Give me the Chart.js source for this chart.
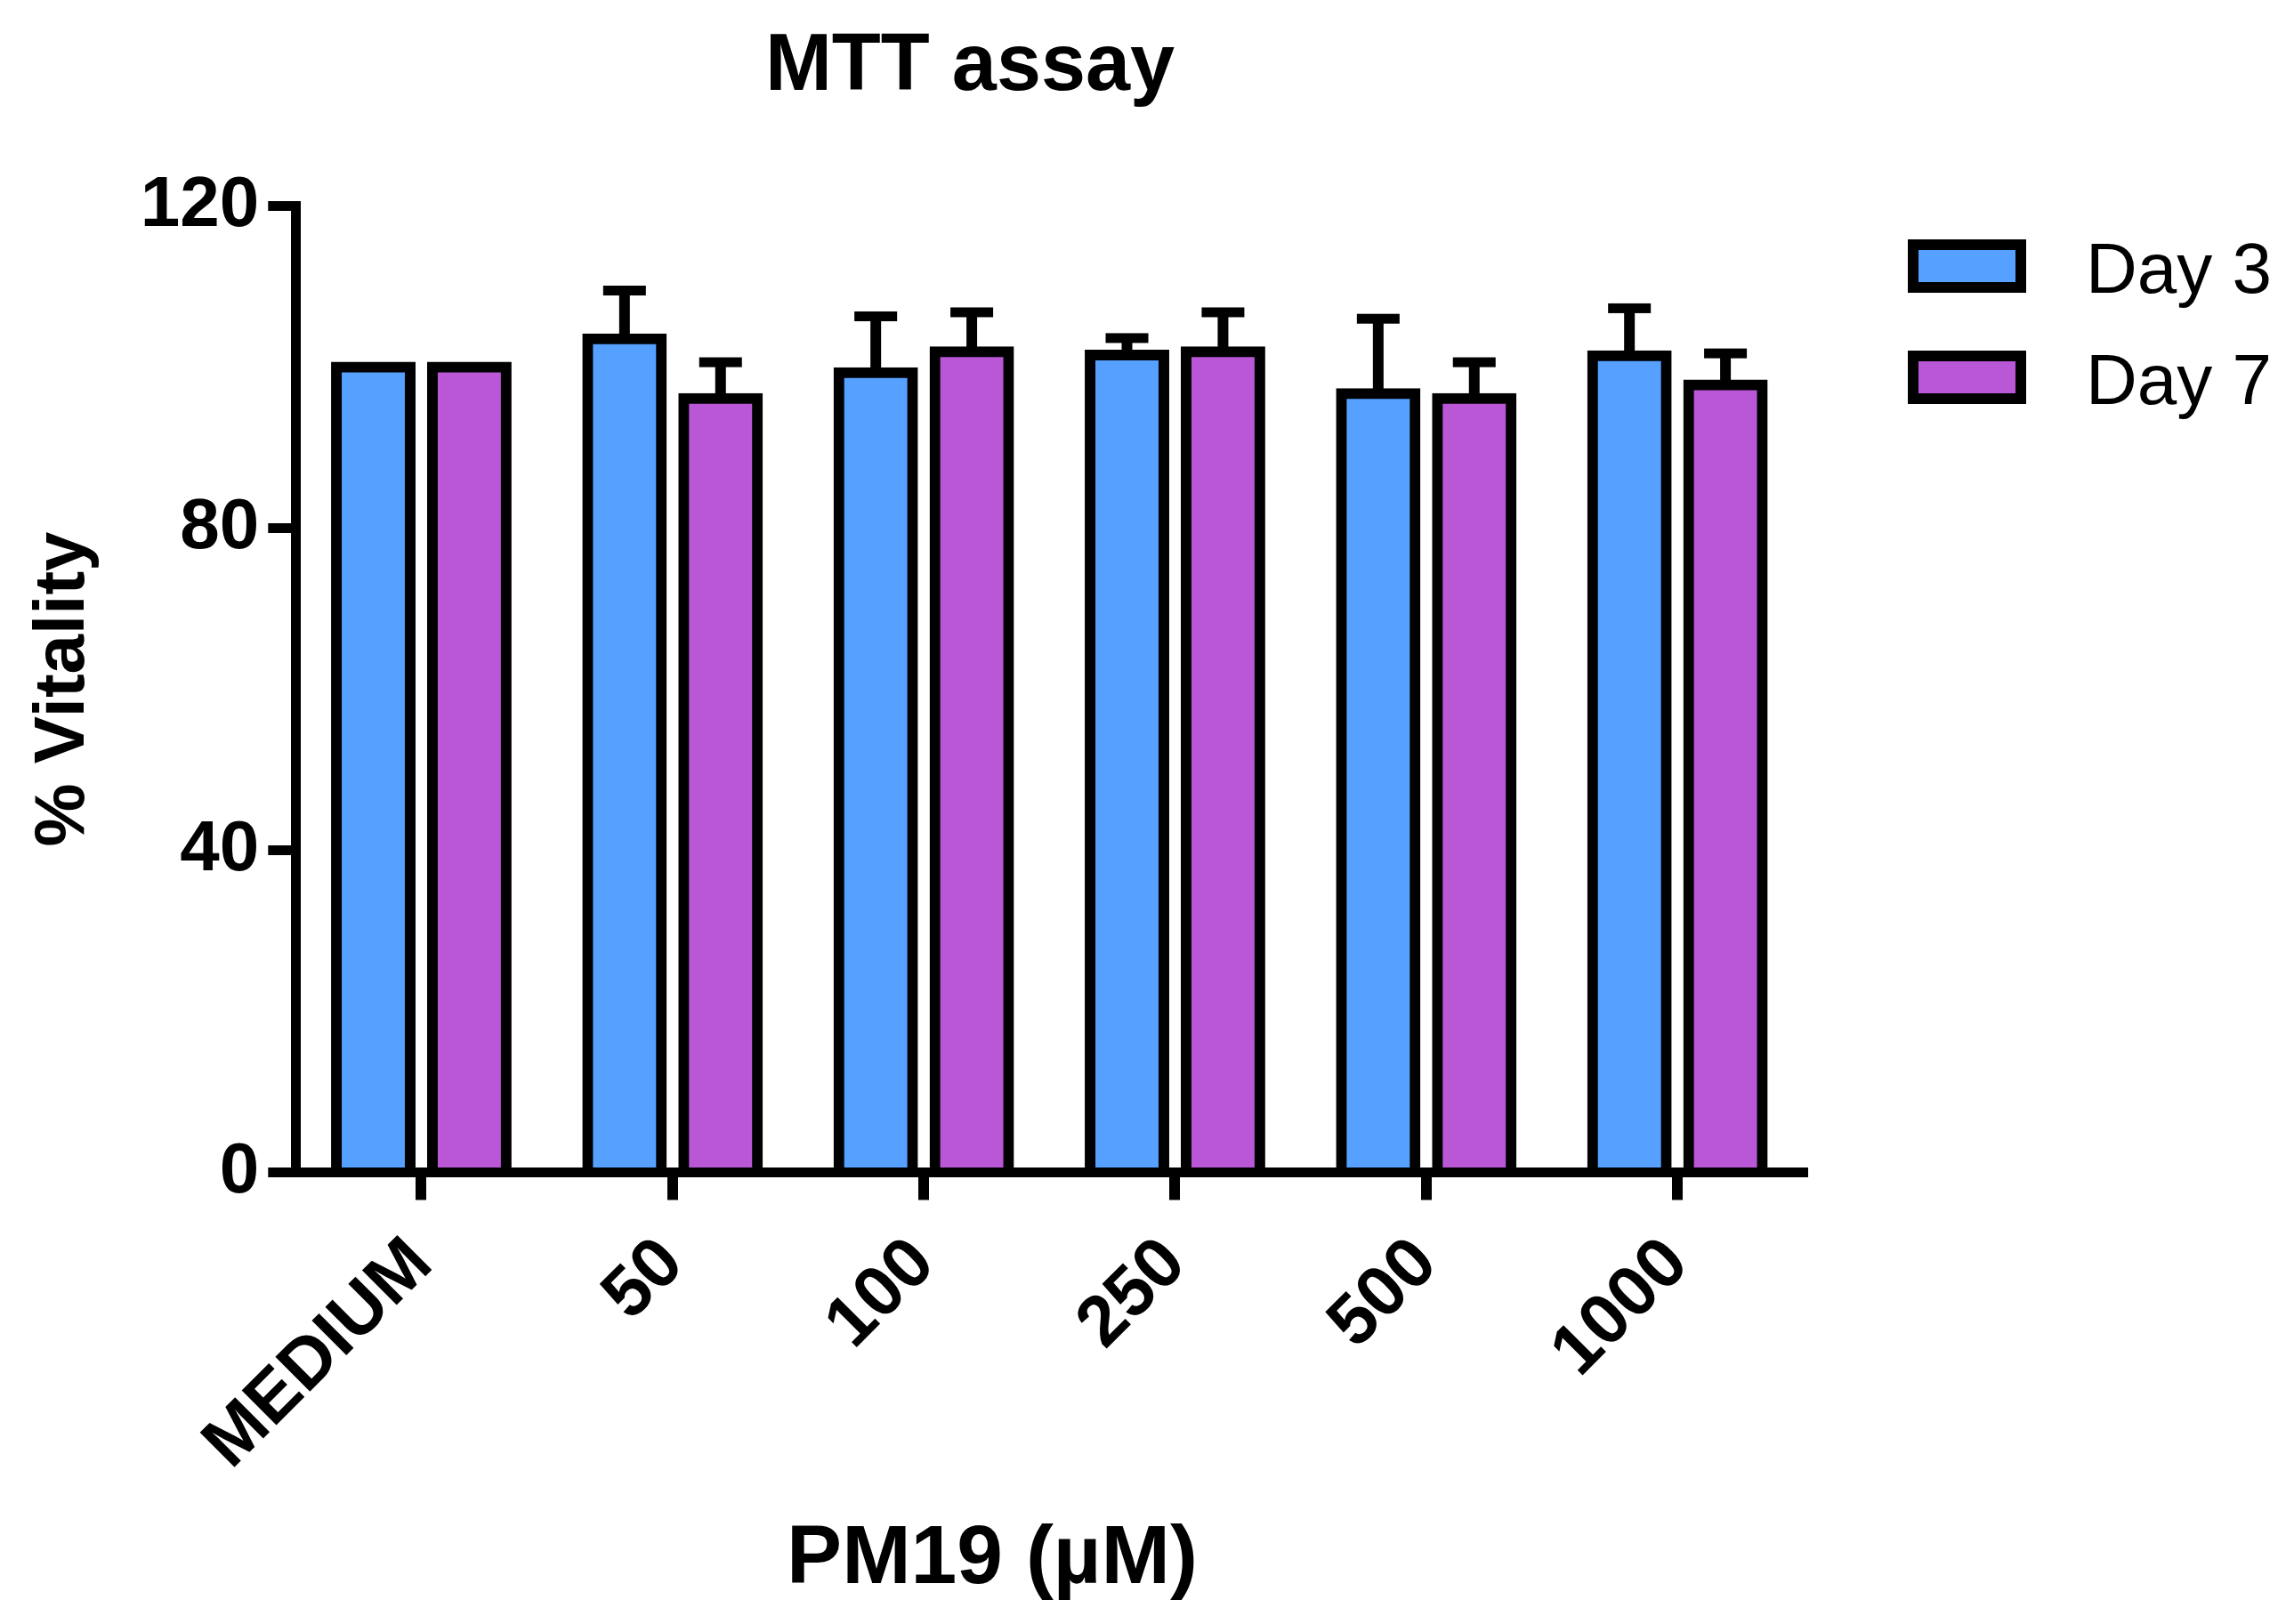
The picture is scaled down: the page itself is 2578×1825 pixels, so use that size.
<!DOCTYPE html>
<html>
<head>
<meta charset="utf-8">
<title>MTT assay</title>
<script src="https://cdn.jsdelivr.net/npm/chart.js@4.4.0/dist/chart.umd.min.js"></script>
<style>
  html, body { margin: 0; padding: 0; background: #fff; }
  canvas { display: block; }
</style>
</head>
<body>
<canvas id="mttChart" width="2578" height="1825"></canvas>
<script>
// dados
const chartTitle = "MTT assay";
const xTitle = "PM19 (µM)";
const yTitle = "% Vitality";
const categories = ["MEDIUM", "50", "100", "250", "500", "1000"];
const day3 = [100, 103.5, 99.3, 101.5, 96.7, 101.4];
const day3Sd = [0, 6.0, 7.0, 2.1, 9.3, 5.9];
const day7 = [100, 96.1, 101.9, 101.9, 96.1, 97.8];
const day7Sd = [0, 4.5, 4.9, 4.9, 4.5, 3.9];
const yTicks = [0, 40, 80, 120];

const FONT = "'Liberation Sans', Arial, sans-serif";

// barras de erro (media + desvio)
const errorBars = {
  id: "errorBars",
  afterDatasetsDraw(chart) {
    const ctx = chart.ctx;
    const y = chart.scales.y;
    chart.data.datasets.forEach((ds, d) => {
      const meta = chart.getDatasetMeta(d);
      meta.data.forEach((bar, i) => {
        const sd = ds.sd[i];
        if (!sd) return;
        const yBase = y.getPixelForValue(ds.data[i]);
        const yTop = y.getPixelForValue(ds.data[i] + sd);
        ctx.save();
        ctx.strokeStyle = "#000";
        ctx.lineWidth = 12;
        ctx.beginPath();
        ctx.moveTo(bar.x, yBase);
        ctx.lineTo(bar.x, yTop);
        ctx.stroke();
        ctx.fillStyle = "#000";
        ctx.fillRect(bar.x - 24, yTop - 5.5, 48, 11);
        ctx.restore();
      });
    });
  },
};

// titulo, titulo do eixo x e legenda
const extras = {
  id: "extras",
  afterDraw(chart) {
    const ctx = chart.ctx;
    ctx.save();
    ctx.fillStyle = "#000";
    ctx.textAlign = "center";
    ctx.textBaseline = "alphabetic";
    ctx.font = "bold 90px " + FONT;
    ctx.fillText(chartTitle, 1090, 101);
    ctx.font = "bold 93px " + FONT;
    ctx.fillText(xTitle, 1115, 1779);

    ctx.textAlign = "left";
    ctx.font = "80px " + FONT;
    chart.data.datasets.forEach((ds, i) => {
      const top = 275 + i * 125;
      ctx.fillStyle = ds.backgroundColor;
      ctx.fillRect(2150, top, 121, 48);
      ctx.lineWidth = 12;
      ctx.strokeStyle = "#000";
      ctx.strokeRect(2150, top, 121, 48);
      ctx.fillStyle = "#000";
      ctx.fillText(ds.label, 2344, 329 + i * 125);
    });
    ctx.restore();
  },
};

const ctx = document.getElementById("mttChart");

new Chart(ctx, {
  type: "bar",
  data: {
    labels: categories,
    datasets: [
      {
        label: "Day 3",
        data: day3,
        sd: day3Sd,
        backgroundColor: "rgb(86, 160, 255)",
        borderColor: "#000",
        borderWidth: 12,
        inflateAmount: 6,
        barPercentage: 0.7685,
        categoryPercentage: 0.7645,
      },
      {
        label: "Day 7",
        data: day7,
        sd: day7Sd,
        backgroundColor: "rgb(185, 87, 214)",
        borderColor: "#000",
        borderWidth: 12,
        inflateAmount: 6,
        barPercentage: 0.7685,
        categoryPercentage: 0.7645,
      },
    ],
  },
  options: {
    responsive: false,
    animation: false,
    devicePixelRatio: 1,
    layout: {
      padding: { top: 231.5, right: 551.7, bottom: 0, left: 0 },
    },
    plugins: {
      legend: { display: false },
      title: { display: false },
      tooltip: { enabled: false },
    },
    scales: {
      x: {
        afterFit: (scale) => {
          scale.height = 507.5;
        },
        grid: {
          offset: false,
          drawOnChartArea: false,
          drawTicks: true,
          tickLength: 31,
          lineWidth: 12,
          color: "#000",
        },
        border: { display: true, color: "#000", width: 11, z: 1 },
        ticks: {
          autoSkip: false,
          minRotation: 45,
          maxRotation: 45,
          padding: 25,
          color: "#000",
          font: { family: FONT, size: 80, weight: "bold" },
        },
      },
      y: {
        min: 0,
        max: 120,
        afterFit: (scale) => {
          scale.width = 332.3;
        },
        afterBuildTicks: (scale) => {
          scale.ticks = yTicks.map((v) => ({ value: v }));
        },
        grid: {
          drawOnChartArea: false,
          drawTicks: true,
          tickLength: 31,
          lineWidth: 11,
          color: "#000",
        },
        border: { display: true, color: "#000", width: 11 },
        ticks: {
          padding: 10,
          color: "#000",
          font: { family: FONT, size: 80, weight: "bold" },
        },
        title: {
          display: true,
          text: yTitle,
          color: "#000",
          padding: { top: 24, bottom: 0 },
          font: { family: FONT, size: 80, weight: "bold" },
        },
      },
    },
  },
  plugins: [errorBars, extras],
});
</script>
</body>
</html>
